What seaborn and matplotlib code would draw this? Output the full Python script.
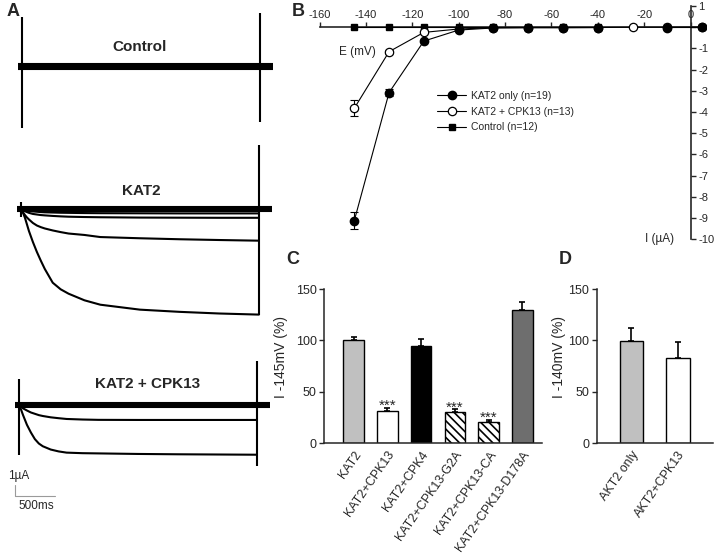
import numpy as np
import matplotlib
matplotlib.use("Agg")
import matplotlib.pyplot as plt
import seaborn as sns

sns.set_style("ticks")
plt.rcParams['font.family'] = ['Liberation Sans', 'DejaVu Sans']
plt.rcParams['hatch.linewidth'] = 1.2
plt.rcParams['axes.unicode_minus'] = False

# ---- Panel A: current traces (uA) sampled at these times (ms) ----
time_ms = [0, 25, 50, 75, 100, 150, 200, 250, 300, 400, 500, 600, 800, 1000, 1500, 2000, 2500, 3000]

kat2_trace_1 = [0, -0.35, -0.8, -1.4, -2.0, -3.0, -3.9, -4.7, -5.45, -6.7, -7.3, -7.7, -8.3, -8.7,
                -9.15, -9.35, -9.5, -9.6]
kat2_trace_2 = [0, -0.3, -0.55, -0.77, -0.95, -1.27, -1.5, -1.65, -1.77, -1.95, -2.1, -2.23, -2.36,
                -2.55, -2.66, -2.75, -2.82, -2.88]
kat2_trace_3 = [0, -0.1, -0.2, -0.28, -0.35, -0.45, -0.5, -0.55, -0.58, -0.63, -0.67, -0.7, -0.73,
                -0.75, -0.78, -0.79, -0.8, -0.8]
kat2_trace_4 = [0, -0.05, -0.1, -0.14, -0.18, -0.22, -0.25, -0.28, -0.3, -0.32, -0.34, -0.35, -0.37,
                -0.38, -0.39, -0.4, -0.4, -0.4]
cpk13_trace_1 = [0, -0.4, -0.9, -1.35, -1.8, -2.5, -3.1, -3.5, -3.75, -4.05, -4.22, -4.33, -4.38,
                 -4.4, -4.45, -4.48, -4.5, -4.52]
cpk13_trace_2 = [0, -0.15, -0.3, -0.4, -0.5, -0.68, -0.8, -0.92, -1.0, -1.12, -1.2, -1.27, -1.32,
                 -1.35, -1.36, -1.36, -1.36, -1.36]

# near-zero traces that pile up into the thick band (uA)
band_levels = [0.22, 0.11, 0.0, -0.11, -0.22]
band_t = [-50, 3160]

# capacitive transients (top, bottom) in uA at step on / step off
ctrl_on, ctrl_off = (4.5, -5.6), (4.9, -5.0)
kat2_on, kat2_off = (0.65, -0.75), (5.8, -9.6)
cpk13_on, cpk13_off = (2.4, -4.5), (5.9, -5.55)
step_end_ms = 3000
scale_ms, scale_ua = 500, 1

# ---- Panel B: I-V ----
voltage = [-145, -130, -115, -100, -85, -70, -55, -40, -25, -10, 5]
iv_kat2 = [-9.12, -3.08, -0.65, -0.13, -0.03, -0.02, -0.02, -0.01, np.nan, -0.01, 0.0]
iv_kat2_err = [0.39, 0.15, 0.05, 0.02, 0.01, 0.01, 0.01, 0.01, np.nan, 0.01, 0.01]
iv_cpk13 = [-3.82, -1.15, -0.24, -0.08, -0.02, -0.01, -0.01, -0.01, 0.0, 0.0, 0.0]
iv_cpk13_err = [0.37, 0.1, 0.04, 0.02, 0.01, 0.01, 0.01, 0.01, 0.01, 0.01, 0.01]
iv_control = [0.0, 0.0, 0.0, 0.0, 0.0, 0.0, 0.0, 0.0, np.nan, 0.0, 0.0]

# ---- Panel C ----
c_labels = ["KAT2", "KAT2+CPK13", "KAT2+CPK4", "KAT2+CPK13-G2A", "KAT2+CPK13-CA", "KAT2+CPK13-D178A"]
c_values = [100, 31, 94.5, 30.5, 20.5, 130]
c_errors = [3.5, 3.5, 6.5, 3, 2.5, 7]
c_colors = ["#c0c0c0", "white", "black", "white", "white", "#6e6e6e"]
c_hatches = ["", "", "", "\\\\\\\\", "\\\\\\\\", ""]
c_signif = ["", "***", "", "***", "***", ""]

# ---- Panel D ----
d_labels = ["AKT2 only", "AKT2+CPK13"]
d_values = [99, 83]
d_errors = [13, 15]
d_colors = ["#c0c0c0", "white"]

W, H = 719, 557
fig = plt.figure(figsize=(W / 100, H / 100), dpi=100)


def px_axes(left, top, width, height):
    return fig.add_axes([left / W, 1 - (top + height) / H, width / W, height / H])


PX_MS = 0.0793
PX_UA = 11.0
T_LO, T_HI = -200, 3400


def trace_axes(x0, yb, i_lo, i_hi):
    ax = px_axes(x0 + T_LO * PX_MS, yb - i_hi * PX_UA, (T_HI - T_LO) * PX_MS, (i_hi - i_lo) * PX_UA)
    ax.set_xlim(T_LO, T_HI)
    ax.set_ylim(i_lo, i_hi)
    ax.axis("off")
    return ax


def draw_recording(ax, traces, on, off):
    for lvl in band_levels:
        ax.plot(band_t, [lvl, lvl], color="black", lw=1.5, solid_capstyle="butt")
    for tr in traces:
        ax.plot(time_ms, tr, color="black", lw=1.5)
    ax.vlines(0, on[1], on[0], color="black", lw=1.5)
    ax.vlines(step_end_ms, off[1], off[0], color="black", lw=1.5)


ax_c1 = trace_axes(22, 66.7, -7, 6)
draw_recording(ax_c1, [], ctrl_on, ctrl_off)
ax_k = trace_axes(21, 209, -11, 7)
draw_recording(ax_k, [kat2_trace_1, kat2_trace_2, kat2_trace_3, kat2_trace_4], kat2_on, kat2_off)
ax_p = trace_axes(19, 405, -10, 4)
draw_recording(ax_p, [cpk13_trace_1, cpk13_trace_2], cpk13_on, cpk13_off)

# scale bar
sb_t, sb_i = -50, -8.27
ax_p.plot([sb_t, sb_t, sb_t + scale_ms], [sb_i + scale_ua, sb_i, sb_i], color="#9a9a9a", lw=0.8, clip_on=False)
ax_p.text(sb_t + 50, sb_i + scale_ua + 0.85, "1µA", fontsize=8.5, ha="center", va="center")
ax_p.text(sb_t + 265, sb_i - 0.95, "500ms", fontsize=8.5, ha="center", va="center")

fig.text(140 / W, 1 - 47 / H, "Control", fontsize=11, fontweight="bold", ha="center", va="center")
fig.text(141 / W, 1 - 191 / H, "KAT2", fontsize=11, fontweight="bold", ha="center", va="center")
fig.text(148 / W, 1 - 384 / H, "KAT2 + CPK13", fontsize=11, fontweight="bold", ha="center", va="center")

# ---- Panel B ----
axb = fig.add_axes([319.5 / W, 1 - 239.3 / H, 386.1 / W, 233.2 / H])
axb.plot(voltage, iv_control, color="black", lw=0.8, marker="s", ms=5, mfc="black", mec="black",
         label="Control (n=12)", zorder=3)
axb.errorbar(voltage, iv_cpk13, yerr=iv_cpk13_err, fmt="none", ecolor="black", elinewidth=0.8,
             capsize=3, capthick=0.8, zorder=4)
axb.plot(voltage, iv_cpk13, color="black", lw=0.8, marker="o", ms=6, mfc="white", mec="black",
         mew=0.9, label="KAT2 + CPK13 (n=13)", zorder=5)
axb.errorbar(voltage, iv_kat2, yerr=iv_kat2_err, fmt="none", ecolor="black", elinewidth=0.8,
             capsize=3, capthick=0.8, zorder=6)
axb.plot(voltage, iv_kat2, color="black", lw=0.8, marker="o", ms=6, mfc="black", mec="black",
         label="KAT2 only (n=19)", zorder=7)
axb.set_xlim(-160, 6.5)
axb.set_ylim(-10, 1)
for s in ["left", "bottom"]:
    axb.spines[s].set_visible(False)
axb.spines["top"].set_position(("data", 0))
axb.spines["right"].set_position(("data", 0))
for s in ["top", "right"]:
    axb.spines[s].set_linewidth(1.2)
    axb.spines[s].set_zorder(2)
axb.xaxis.set_ticks_position("top")
axb.yaxis.set_ticks_position("right")
axb.set_xticks(range(-160, 1, 20))
axb.set_yticks(range(-10, 2))
axb.tick_params(direction="out", length=3.5, width=1.0, labelsize=8, pad=2)
axb.patch.set_visible(False)
h, l = axb.get_legend_handles_labels()
axb.legend(h[::-1], l[::-1], loc="upper left", bbox_to_anchor=(437 / W, 1 - 91 / H),
           bbox_transform=fig.transFigure, frameon=False, fontsize=7.5, borderpad=0,
           handlelength=2.8, handletextpad=0.5, labelspacing=0.55, borderaxespad=0)
fig.text(357 / W, 1 - 52 / H, "E (mV)", fontsize=8.5, ha="center", va="center")
fig.text(660 / W, 1 - 239.3 / H, "I (µA)", fontsize=8.5, ha="center", va="center")


def bar_panel(ax, labels, values, errors, colors, width, capsize):
    sns.barplot(x=labels, y=values, hue=labels, palette=colors, legend=False, width=width,
                edgecolor="black", linewidth=1.0, saturation=1, ax=ax)
    ax.errorbar(range(len(values)), values, yerr=[np.zeros(len(values)), errors], fmt="none",
                ecolor="black", elinewidth=1.2, capsize=capsize, capthick=1.2, zorder=5)
    ax.set_ylim(0, 150)
    ax.set_yticks([0, 50, 100, 150])
    sns.despine(ax=ax)
    for s in ["left", "bottom"]:
        ax.spines[s].set_linewidth(1.1)
    ax.tick_params(axis="y", direction="out", length=3.5, width=1.0, labelsize=9, pad=2)
    ax.tick_params(axis="x", length=0, labelsize=9, pad=4)
    ax.set_xticks(range(len(labels)))
    ax.set_xticklabels(labels, rotation=55, ha="right", rotation_mode="anchor")
    ax.patch.set_visible(False)


axc = fig.add_axes([324.3 / W, 1 - 443.3 / H, 217.4 / W, 154.3 / H])
bar_panel(axc, c_labels, c_values, c_errors, c_colors, 0.61, 2)
axc.set_xlim(-0.87, 5.57)
for patch, hatch in zip(axc.patches, c_hatches):
    if hatch:
        patch.set_hatch(hatch)
for i, s in enumerate(c_signif):
    if s:
        axc.text(i, c_values[i] + c_errors[i] + 1.5, s, fontsize=11, ha="center", va="center")
axc.set_ylabel("I -145mV (%)", fontsize=10)
axc.yaxis.set_label_coords((288 - 324.3) / 217.4, (443.3 - 357) / 154.3)

axd = fig.add_axes([596.7 / W, 1 - 443.3 / H, 116.6 / W, 154.3 / H])
bar_panel(axd, d_labels, d_values, d_errors, d_colors, 0.5, 2.5)
axd.set_xlim(-0.74, 1.76)
axd.set_ylabel("I -140mV (%)", fontsize=10)
axd.yaxis.set_label_coords((566 - 596.7) / 116.6, (443.3 - 357) / 154.3)

for letter, x, y in [("A", 13, 12), ("B", 298, 12), ("C", 293, 260), ("D", 565, 260)]:
    fig.text(x / W, 1 - y / H, letter, fontsize=13, fontweight="bold", ha="center", va="center")

fig.savefig("out.png", dpi=100)
